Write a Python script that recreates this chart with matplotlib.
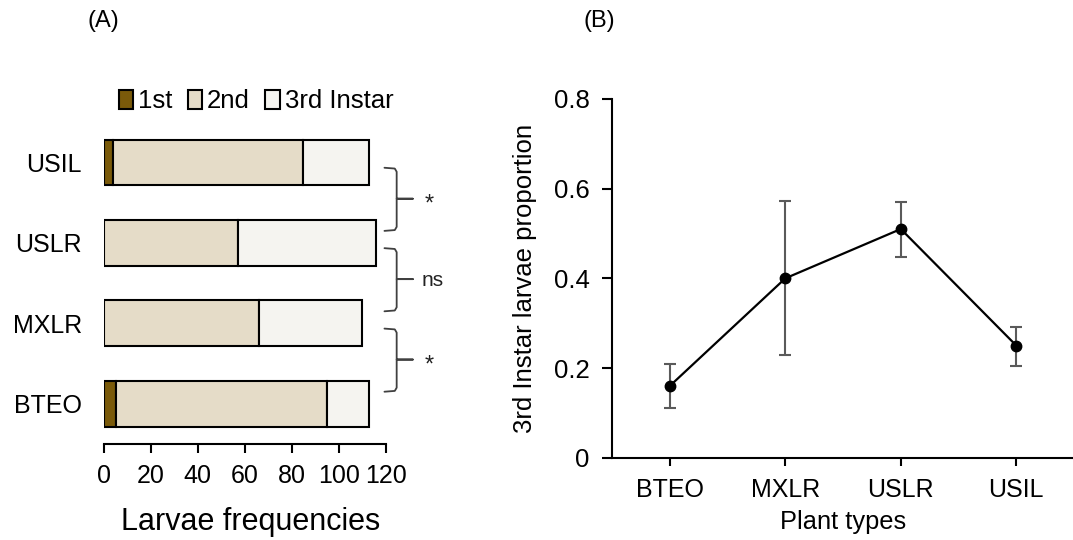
import matplotlib
matplotlib.use("Agg")
import matplotlib.pyplot as plt
import numpy as np

plt.rcParams['font.family'] = ['Liberation Sans', 'DejaVu Sans']

# ---- Panel A data ----
plants_a = ["BTEO", "MXLR", "USLR", "USIL"]
first_instar = [5, 0, 0, 4]
second_instar = [90, 66, 57, 81]
third_instar = [18, 44, 59, 28]
a_ticks = [0, 20, 40, 60, 80, 100, 120]
sig_labels = ["*", "ns", "*"]

# ---- Panel B data ----
plants_b = ["BTEO", "MXLR", "USLR", "USIL"]
prop_third = [0.16, 0.40, 0.51, 0.25]
err_low = [0.11, 0.228, 0.448, 0.205]
err_high = [0.209, 0.573, 0.570, 0.292]
b_ticks = [0, 0.2, 0.4, 0.6, 0.8]
b_ticklabels = ["0", "0.2", "0.4", "0.6", "0.8"]

c1, c2, c3 = "#7A5A0A", "#E5DCC8", "#F5F4F0"

fig = plt.figure(figsize=(10.73, 5.40), dpi=100)

# ---------------- Panel A ----------------
axA = fig.add_axes([0.0969, 0.1778, 0.2625, 0.5957])
y = np.arange(len(plants_a))
f = np.array(first_instar); s = np.array(second_instar); t = np.array(third_instar)
h = 0.57
b1 = axA.barh(y, f, height=h, color=c1, edgecolor="black", linewidth=1.5, label="1st")
b2 = axA.barh(y, s, left=f, height=h, color=c2, edgecolor="black", linewidth=1.5, label="2nd")
b3 = axA.barh(y, t, left=f + s, height=h, color=c3, edgecolor="black", linewidth=1.5, label="3rd Instar")
axA.set_xlim(0, 120)
axA.set_ylim(-0.5, 3.5)
axA.set_yticks(y)
axA.set_yticklabels(plants_a, fontsize=18)
axA.tick_params(axis="y", length=0, pad=16)
axA.set_xticks(a_ticks)
axA.set_xticklabels([str(v) for v in a_ticks], fontsize=18)
axA.tick_params(axis="x", length=6.5, width=1.5, pad=8)
for sp in ["top", "right", "left"]:
    axA.spines[sp].set_visible(False)
axA.spines["bottom"].set_linewidth(1.5)
axA.set_xlabel("Larvae frequencies", fontsize=22)
axA.xaxis.set_label_coords(0.52, -0.197)

leg = axA.legend(handles=[b1, b2, b3], ncol=3, loc="center",
                 bbox_to_anchor=(0.54, 1.065), frameon=False, fontsize=18.5,
                 handlelength=0.55, handleheight=0.75, handletextpad=0.2,
                 columnspacing=0.6, borderaxespad=0)

# significance braces
bx0, bx1, bx2 = 119.5, 124.7, 131.6
brace_color = "#404040"
for i, lab in enumerate(sig_labels):
    y_top = i + 0.935
    y_bot = i + 0.15
    y_mid = i + 0.55
    xs = [bx0, bx1 - 0.8, bx1, bx1, bx2, bx1, bx1, bx1 - 0.8, bx0]
    ys = [y_top, y_top - 0.01, y_top - 0.05, y_mid, y_mid, y_mid, y_bot + 0.05, y_bot + 0.01, y_bot]
    axA.plot(xs, ys, color=brace_color, lw=1.3, clip_on=False, solid_capstyle="round")
    axA.text(136.5 if lab == "*" else 135.5, y_mid - (0.07 if lab == "*" else 0.02), lab,
             fontsize=15 if lab == "ns" else 17,
             ha="left", va="center", color="#222222", clip_on=False)

fig.text(0.096, 0.962, "(A)", fontsize=17, ha="center", va="center")
fig.text(0.559, 0.962, "(B)", fontsize=17, ha="center", va="center")

# ---------------- Panel B ----------------
axB = fig.add_axes([0.5704, 0.1524, 0.4306, 0.6643])
xb = np.arange(len(plants_b))
pv = np.array(prop_third)
lo = pv - np.array(err_low)
hi = np.array(err_high) - pv
axB.errorbar(xb, pv, yerr=[lo, hi], fmt="none", ecolor="#5a5a5a", elinewidth=1.5,
             capsize=4.5, capthick=1.5, zorder=2)
axB.plot(xb, pv, color="black", lw=1.6, marker="o", markersize=7.5, zorder=3)
axB.set_xlim(-0.5, 3.5)
axB.set_ylim(0, 0.8)
axB.set_yticks(b_ticks)
axB.set_yticklabels(b_ticklabels, fontsize=18.5)
axB.set_xticks(xb)
axB.set_xticklabels(plants_b, fontsize=18)
axB.tick_params(axis="y", length=7, width=1.5, pad=9)
axB.tick_params(axis="x", length=6, width=1.5, pad=8.5)
for sp in ["top", "right"]:
    axB.spines[sp].set_visible(False)
axB.spines["left"].set_linewidth(1.5)
axB.spines["bottom"].set_linewidth(1.5)
axB.set_xlabel("Plant types", fontsize=18.3)
axB.xaxis.set_label_coords(0.5, -0.145)
axB.set_ylabel("3rd Instar larvae proportion", fontsize=18.5)
axB.yaxis.set_label_coords(-0.163, 0.5)

fig.savefig("out.png", dpi=100)
